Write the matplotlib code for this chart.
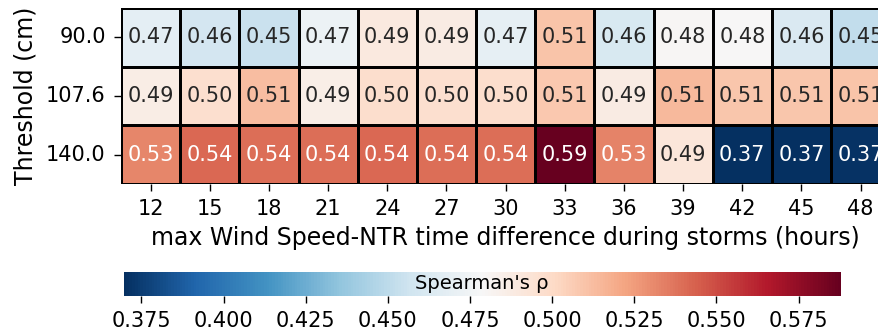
import numpy as np
import pandas as pd
import seaborn as sns
import matplotlib
matplotlib.use("Agg")
import matplotlib.pyplot as plt

# lag (hours) between max wind speed and NTR peak
lags = [12, 15, 18, 21, 24, 27, 30, 33, 36, 39, 42, 45, 48]
thresholds = ["90.0", "107.6", "140.0"]

rho_90 = [0.468, 0.459, 0.454, 0.472, 0.489, 0.488, 0.469, 0.510, 0.461, 0.480, 0.479, 0.462, 0.452]
rho_107 = [0.487, 0.497, 0.512, 0.486, 0.498, 0.497, 0.498, 0.508, 0.488, 0.514, 0.509, 0.509, 0.510]
rho_140 = [0.532, 0.541, 0.540, 0.540, 0.541, 0.540, 0.540, 0.5878, 0.533, 0.492, 0.3696, 0.370, 0.371]

cbar_ticks = [0.375, 0.400, 0.425, 0.450, 0.475, 0.500, 0.525, 0.550, 0.575]

df = pd.DataFrame([rho_90, rho_107, rho_140], index=thresholds, columns=lags)

fig = plt.figure(figsize=(8.79, 3.31), dpi=100)
ax = fig.add_axes([0.1377, 0.444, 0.875, 0.532])
cax = fig.add_axes([0.1407, 0.1067, 0.8157, 0.0725])

sns.heatmap(df, ax=ax, cbar_ax=cax, cmap="RdBu_r", annot=True, fmt=".2f",
            annot_kws={"fontsize": 15}, linewidths=1, linecolor="black",
            cbar_kws={"orientation": "horizontal"})

ax.set_xlabel("max Wind Speed-NTR time difference during storms (hours)",
              fontsize=17, labelpad=5)
ax.set_ylabel("Threshold (cm)", fontsize=17, labelpad=6)
ax.tick_params(axis="both", labelsize=15, length=5, width=1, pad=6)
ax.set_yticklabels(thresholds, rotation=0)
ax.set_xticklabels(lags, rotation=0)

cax.set_xticks(cbar_ticks)
cax.tick_params(labelsize=15, length=5, width=1, pad=6)
cax.text(0.5, 0.5, "Spearman's ρ", transform=cax.transAxes, ha="center",
         va="center", fontsize=14)

fig.savefig("out.png", dpi=100)
